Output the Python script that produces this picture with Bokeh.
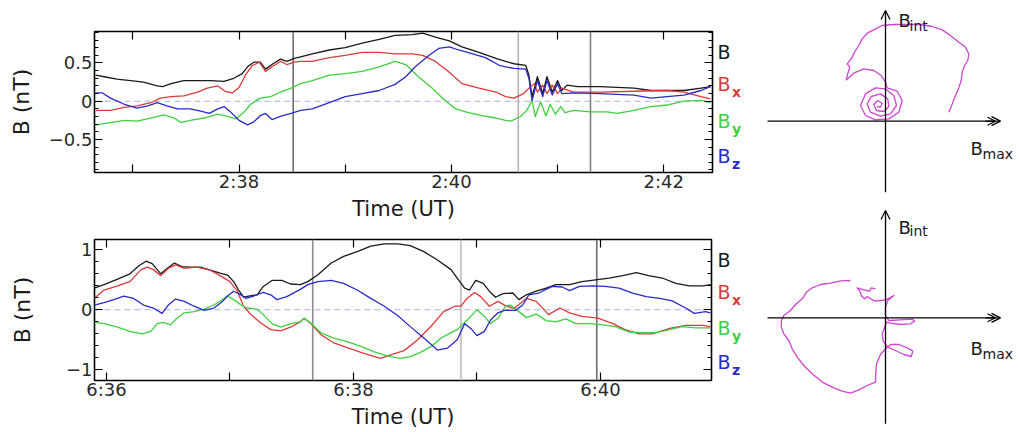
import numpy as np
from bokeh.plotting import figure
from bokeh.layouts import row, column
from bokeh.models import (Range1d, LinearAxis, FixedTicker, CustomJSTickFormatter,
                          Span, Label, Arrow, OpenHead)
from bokeh.embed import file_html
from bokeh.resources import INLINE

FONT = "DejaVu Sans"

# ---------------- Event 1 : 02:36 - 02:42 UT (time = minutes after 02:00) ----------------
t1_B = [36.65, 36.73, 36.85, 36.98, 37.10, 37.23, 37.28, 37.36, 37.48, 37.61, 37.73, 37.86, 37.95, 38.03,
        38.08, 38.14, 38.20, 38.25, 38.31, 38.39, 38.45, 38.52, 38.58, 38.69, 38.85, 39.00, 39.16, 39.32,
        39.47, 39.63, 39.73, 39.85, 39.98, 40.10, 40.26, 40.42, 40.51, 40.59, 40.70, 40.73, 40.76, 40.81,
        40.86, 40.90, 40.95, 41.00, 41.04, 41.09, 41.19, 41.40, 41.72, 41.88, 42.03, 42.19, 42.35, 42.44]
v1_B = [0.34, 0.32, 0.29, 0.27, 0.25, 0.20, 0.19, 0.23, 0.27, 0.27, 0.27, 0.26, 0.30, 0.36,
        0.45, 0.51, 0.51, 0.42, 0.48, 0.55, 0.52, 0.56, 0.58, 0.62, 0.67, 0.70, 0.76, 0.81,
        0.86, 0.87, 0.89, 0.84, 0.79, 0.71, 0.64, 0.56, 0.52, 0.49, 0.47, 0.34, 0.06, 0.32,
        0.10, 0.32, 0.12, 0.27, 0.14, 0.21, 0.19, 0.19, 0.17, 0.14, 0.14, 0.14, 0.17, 0.19]

t1_Bx = [36.65, 36.79, 36.92, 37.04, 37.17, 37.26, 37.36, 37.48, 37.61, 37.70, 37.80, 37.87, 37.94, 38.00,
         38.06, 38.12, 38.19, 38.25, 38.31, 38.39, 38.45, 38.52, 38.58, 38.69, 38.85, 39.00, 39.16, 39.32,
         39.47, 39.63, 39.73, 39.85, 39.98, 40.10, 40.26, 40.42, 40.51, 40.59, 40.68, 40.73, 40.78, 40.81,
         40.86, 40.90, 40.95, 41.00, 41.04, 41.15, 41.40, 41.72, 42.03, 42.19, 42.35, 42.44]
v1_Bx = [-0.12, -0.12, -0.08, -0.06, -0.02, 0.04, 0.06, 0.07, 0.12, 0.17, 0.20, 0.13, 0.11, 0.18,
         0.34, 0.46, 0.51, 0.39, 0.45, 0.52, 0.48, 0.51, 0.52, 0.52, 0.57, 0.60, 0.64, 0.64,
         0.62, 0.62, 0.60, 0.52, 0.38, 0.23, 0.17, 0.12, 0.06, 0.04, 0.10, 0.17, 0.23, 0.12,
         0.21, 0.10, 0.21, 0.10, 0.17, 0.12, 0.12, 0.13, 0.14, 0.12, 0.06, 0.03]

t1_By = [36.65, 36.79, 36.92, 37.04, 37.17, 37.29, 37.39, 37.45, 37.54, 37.67, 37.80, 37.89, 37.97, 38.05,
         38.11, 38.20, 38.30, 38.39, 38.49, 38.58, 38.69, 38.85, 39.00, 39.16, 39.32, 39.47, 39.57, 39.69,
         39.82, 39.94, 40.04, 40.16, 40.29, 40.42, 40.51, 40.56, 40.65, 40.71, 40.76, 40.79, 40.84, 40.89,
         40.93, 40.98, 41.03, 41.07, 41.15, 41.31, 41.47, 41.56, 41.72, 41.88, 42.03, 42.19, 42.35, 42.44]
v1_By = [-0.31, -0.28, -0.25, -0.26, -0.22, -0.18, -0.22, -0.28, -0.25, -0.22, -0.17, -0.20, -0.23, -0.14,
         -0.04, 0.04, 0.06, 0.12, 0.17, 0.23, 0.27, 0.34, 0.36, 0.39, 0.45, 0.52, 0.48, 0.32,
         0.17, 0.01, -0.10, -0.15, -0.19, -0.22, -0.25, -0.26, -0.20, -0.12, 0.01, -0.20, -0.01, -0.19,
         -0.04, -0.17, -0.07, -0.15, -0.12, -0.14, -0.14, -0.16, -0.12, -0.07, -0.05, 0.00, 0.01, -0.02]

t1_Bz = [36.65, 36.71, 36.79, 36.92, 37.04, 37.14, 37.23, 37.32, 37.42, 37.54, 37.64, 37.72, 37.80, 37.86,
         37.92, 38.00, 38.08, 38.14, 38.20, 38.25, 38.31, 38.39, 38.49, 38.58, 38.69, 38.85, 39.00, 39.16,
         39.32, 39.47, 39.57, 39.66, 39.79, 39.88, 39.98, 40.07, 40.20, 40.32, 40.45, 40.51, 40.59, 40.70,
         40.73, 40.76, 40.81, 40.86, 40.90, 40.95, 41.00, 41.04, 41.15, 41.40, 41.72, 41.88, 42.03, 42.19,
         42.35, 42.44]
v1_Bz = [0.11, 0.11, 0.04, -0.04, -0.09, -0.06, -0.02, -0.06, -0.10, -0.10, -0.13, -0.16, -0.10, -0.07,
         -0.14, -0.25, -0.31, -0.27, -0.19, -0.16, -0.24, -0.20, -0.16, -0.12, -0.10, -0.02, 0.06, 0.10,
         0.14, 0.22, 0.32, 0.45, 0.60, 0.69, 0.71, 0.67, 0.62, 0.57, 0.47, 0.45, 0.43, 0.42,
         0.30, 0.01, 0.27, 0.06, 0.27, 0.08, 0.23, 0.10, 0.11, 0.10, 0.08, 0.04, 0.06, 0.08,
         0.14, 0.19]

events1 = [38.51, 40.63, 41.31]

# ---------------- Event 2 : 06:36 - 06:41 UT (time = minutes after 06:00) ----------------
t2_B = [35.90, 35.98, 36.09, 36.19, 36.26, 36.32, 36.37, 36.44, 36.49, 36.55, 36.61, 36.68, 36.76, 36.84,
        36.92, 36.98, 37.03, 37.07, 37.11, 37.15, 37.22, 37.27, 37.34, 37.42, 37.49, 37.57, 37.63, 37.71,
        37.82, 37.92, 38.03, 38.14, 38.25, 38.36, 38.46, 38.57, 38.68, 38.79, 38.84, 38.90, 38.94, 38.99,
        39.05, 39.10, 39.15, 39.21, 39.29, 39.34, 39.40, 39.48, 39.56, 39.64, 39.75, 39.85, 39.96, 40.07,
        40.18, 40.29, 40.39, 40.50, 40.61, 40.72, 40.83, 40.89]
v2_B = [0.36, 0.42, 0.51, 0.60, 0.73, 0.81, 0.77, 0.60, 0.69, 0.78, 0.72, 0.71, 0.71, 0.66,
        0.61, 0.58, 0.47, 0.33, 0.21, 0.23, 0.25, 0.39, 0.49, 0.49, 0.43, 0.42, 0.47, 0.58,
        0.78, 0.89, 0.97, 1.06, 1.10, 1.10, 1.07, 0.97, 0.83, 0.67, 0.53, 0.36, 0.33, 0.49,
        0.44, 0.31, 0.21, 0.27, 0.28, 0.17, 0.25, 0.31, 0.36, 0.42, 0.42, 0.47, 0.50, 0.53,
        0.57, 0.62, 0.57, 0.53, 0.44, 0.40, 0.40, 0.42]

t2_Bx = [35.90, 35.98, 36.09, 36.19, 36.28, 36.33, 36.38, 36.44, 36.50, 36.56, 36.63, 36.73, 36.84, 36.92,
         37.00, 37.06, 37.11, 37.17, 37.25, 37.33, 37.41, 37.49, 37.57, 37.60, 37.65, 37.74, 37.84, 37.95,
         38.06, 38.17, 38.22, 38.30, 38.41, 38.52, 38.63, 38.73, 38.82, 38.87, 38.92, 38.98, 39.03, 39.10,
         39.17, 39.23, 39.30, 39.40, 39.48, 39.58, 39.67, 39.75, 39.85, 39.98, 40.10, 40.20, 40.31, 40.42,
         40.56, 40.69, 40.83, 40.89]
v2_Bx = [0.19, 0.33, 0.40, 0.47, 0.67, 0.71, 0.67, 0.57, 0.69, 0.75, 0.69, 0.71, 0.66, 0.57,
         0.47, 0.31, 0.06, -0.08, -0.22, -0.33, -0.35, -0.29, -0.20, -0.14, -0.22, -0.42, -0.55, -0.63,
         -0.71, -0.78, -0.81, -0.75, -0.68, -0.50, -0.27, -0.03, 0.06, 0.06, 0.19, 0.29, 0.22, 0.06,
         0.14, 0.07, 0.02, 0.19, 0.14, -0.08, 0.03, -0.05, -0.11, -0.14, -0.23, -0.33, -0.40, -0.40,
         -0.31, -0.26, -0.26, -0.28]

t2_By = [35.90, 35.98, 36.09, 36.19, 36.29, 36.36, 36.41, 36.46, 36.52, 36.57, 36.63, 36.71, 36.79, 36.87,
         36.94, 36.98, 37.03, 37.09, 37.14, 37.22, 37.27, 37.34, 37.41, 37.49, 37.57, 37.60, 37.65, 37.74,
         37.84, 37.95, 38.06, 38.17, 38.28, 38.38, 38.46, 38.55, 38.63, 38.71, 38.79, 38.84, 38.90, 38.95,
         39.00, 39.06, 39.11, 39.17, 39.23, 39.27, 39.34, 39.40, 39.48, 39.56, 39.64, 39.72, 39.80, 39.91,
         40.02, 40.12, 40.23, 40.34, 40.45, 40.56, 40.66, 40.77, 40.89]
v2_By = [-0.21, -0.23, -0.29, -0.36, -0.40, -0.36, -0.23, -0.21, -0.25, -0.14, -0.05, -0.03, 0.01, 0.08,
         0.17, 0.23, 0.17, 0.08, 0.03, 0.01, -0.08, -0.23, -0.29, -0.23, -0.20, -0.14, -0.21, -0.39,
         -0.47, -0.53, -0.61, -0.70, -0.77, -0.81, -0.78, -0.70, -0.61, -0.47, -0.38, -0.33, -0.21, -0.11,
         0.00, -0.11, -0.23, -0.14, 0.06, 0.08, -0.03, -0.13, -0.07, -0.18, -0.20, -0.15, -0.23, -0.23,
         -0.25, -0.28, -0.37, -0.38, -0.38, -0.33, -0.28, -0.30, -0.30]

t2_Bz = [35.90, 35.98, 36.06, 36.14, 36.22, 36.30, 36.38, 36.45, 36.50, 36.56, 36.63, 36.71, 36.79, 36.87,
         36.94, 36.98, 37.03, 37.09, 37.13, 37.19, 37.27, 37.33, 37.38, 37.46, 37.57, 37.63, 37.71, 37.82,
         37.92, 38.03, 38.14, 38.25, 38.36, 38.46, 38.57, 38.68, 38.76, 38.84, 38.90, 38.95, 39.00, 39.06,
         39.11, 39.17, 39.22, 39.31, 39.37, 39.42, 39.50, 39.61, 39.69, 39.75, 39.83, 39.94, 40.04, 40.15,
         40.26, 40.37, 40.48, 40.58, 40.69, 40.76, 40.85, 40.89]
v2_Bz = [0.08, 0.12, 0.17, 0.23, 0.19, 0.08, 0.03, -0.06, 0.08, 0.18, 0.14, 0.06, -0.01, 0.03,
         0.14, 0.23, 0.31, 0.25, 0.19, 0.23, 0.29, 0.25, 0.17, 0.22, 0.34, 0.42, 0.47, 0.49,
         0.44, 0.33, 0.19, 0.06, -0.10, -0.28, -0.47, -0.67, -0.64, -0.50, -0.23, -0.31, -0.43, -0.36,
         -0.17, -0.05, -0.01, -0.01, 0.08, 0.25, 0.28, 0.39, 0.38, 0.32, 0.39, 0.40, 0.39, 0.36,
         0.28, 0.22, 0.19, 0.15, 0.03, -0.06, -0.03, -0.05]

events2 = [37.67, 38.87, 39.97]

# ---------------- Hodograms (B_max vs B_int) ----------------
h1_bmax = [0.633, 0.667, 0.700, 0.733, 0.757, 0.767, 0.790, 0.823, 0.833, 0.800, 0.733, 0.650, 0.567, 0.467,
           0.350, 0.217, 0.083, -0.033, -0.117, -0.183, -0.233, -0.267, -0.310, -0.343, -0.383, -0.357,
           -0.373, -0.393, -0.317, -0.217, -0.117, -0.043, 0.000, 0.017, 0.117, 0.167, 0.133, 0.033, -0.100,
           -0.200, -0.250, -0.200, -0.100, 0.000, 0.083, 0.110, 0.050, -0.050, -0.150, -0.183, -0.143,
           -0.050, 0.023, 0.033, -0.017, -0.090, -0.117, -0.077, -0.033, -0.050, -0.083]
h1_bint = [0.090, 0.173, 0.257, 0.333, 0.407, 0.490, 0.557, 0.607, 0.673, 0.740, 0.790, 0.857, 0.913, 0.947,
           0.967, 0.967, 0.967, 0.957, 0.913, 0.880, 0.823, 0.757, 0.690, 0.623, 0.573, 0.540,
           0.490, 0.413, 0.480, 0.523, 0.507, 0.457, 0.390, 0.333, 0.300, 0.207, 0.090, 0.023, 0.013,
           0.057, 0.157, 0.273, 0.333, 0.323, 0.257, 0.157, 0.073, 0.050, 0.090, 0.173, 0.247,
           0.273, 0.223, 0.147, 0.097, 0.107, 0.167, 0.207, 0.180, 0.140, 0.147]

h2_bmax = [-0.350, -0.450, -0.550, -0.650, -0.733, -0.790, -0.833, -0.900, -0.950, -1.017, -1.040, -1.043,
           -1.017, -0.967, -0.933, -0.883, -0.817, -0.733, -0.633, -0.517, -0.433, -0.350, -0.267, -0.183,
           -0.100, -0.097, -0.090, -0.050, 0.000, 0.050, 0.133, 0.217, 0.273, 0.257, 0.183, 0.100, 0.023,
           -0.023, -0.033, -0.010, 0.010, 0.050, 0.150, 0.250, 0.290, 0.267, 0.150, 0.033, 0.000, 0.000,
           0.023, 0.067, 0.083, 0.043, 0.000, -0.050, -0.100, -0.150, -0.183, -0.210, -0.243, -0.257,
           -0.283, -0.217, -0.157, -0.143, -0.100]
h2_bint = [0.373, 0.370, 0.347, 0.333, 0.300, 0.257, 0.190, 0.133, 0.073, 0.023, -0.027, -0.093,
           -0.160, -0.227, -0.310, -0.393, -0.477, -0.560, -0.643, -0.700, -0.733, -0.753, -0.720, -0.677,
           -0.643, -0.543, -0.460, -0.367, -0.310, -0.267, -0.267, -0.300, -0.333, -0.387, -0.367, -0.327,
           -0.293, -0.233, -0.160, -0.100, -0.043, -0.053, -0.067, -0.060, -0.033, -0.013, -0.020, -0.027,
           0.023, 0.107, 0.173, 0.207, 0.223, 0.200, 0.180, 0.173, 0.167, 0.190, 0.213, 0.190, 0.223,
           0.267, 0.300, 0.280, 0.267, 0.300, 0.290]

component_subs = ["", "x", "y", "z"]

# ---------------- styles ----------------
COLORS = ["#1a1a1a", "#dc3a3a", "#3fd03f", "#2a2ac8"]
EVENT_COLORS_1 = ["#707070", "#b4b4b4", "#808080"]
EVENT_COLORS_2 = ["#8c8c8c", "#bdbdbd", "#6c6c6c"]
HODO_COLOR = "#cf45cf"


def style_axis(ax, labels=True):
    ax.axis_line_color = None
    ax.major_tick_in = 8
    ax.major_tick_out = 0
    ax.minor_tick_in = 4
    ax.minor_tick_out = 0
    ax.major_tick_line_color = "black"
    ax.minor_tick_line_color = "black"
    ax.major_tick_line_width = 1.2
    ax.minor_tick_line_width = 1.2
    ax.major_label_text_font = FONT
    ax.major_label_text_color = "#2a2a2a"
    if labels:
        ax.major_label_text_font_size = "18px"
        ax.major_label_standoff = 2
    else:
        ax.formatter = CustomJSTickFormatter(code="return ''")
        ax.major_label_text_font_size = "1px"
        ax.major_label_standoff = 0


def ts_panel(hour, minutes, xr, yr, y_major, y_minor, series, events, ev_colors,
             frame_w, frame_h, borders, ylab_standoff):
    bl, br, bt, bb = borders
    p = figure(frame_width=frame_w, frame_height=frame_h,
               x_range=Range1d(*xr), y_range=Range1d(*yr),
               x_axis_location=None, y_axis_location=None,
               min_border_left=bl, min_border_right=br, min_border_top=bt, min_border_bottom=bb,
               output_backend="svg", toolbar_location=None)
    p.grid.grid_line_color = None
    p.outline_line_color = "black"
    p.outline_line_width = 1.6
    p.background_fill_color = "white"
    p.border_fill_color = "white"

    xt = FixedTicker(ticks=minutes, minor_ticks=[])
    overrides = {m: (f"{hour}:{m:02d}" if m % 2 == 0 else "") for m in minutes}
    yt = FixedTicker(ticks=y_major, minor_ticks=y_minor)
    yover = {v: ("\u2212" + f"{abs(v):g}" if v < 0 else f"{v:g}") for v in y_major}

    xb = LinearAxis(ticker=xt, major_label_overrides=overrides, axis_label="Time (UT)")
    style_axis(xb)
    xb.major_label_standoff = -2
    xb.axis_label_text_font = FONT
    xb.axis_label_text_font_size = "21px"
    xb.axis_label_text_font_style = "normal"
    xb.axis_label_text_color = "#1a1a1a"
    xb.axis_label_standoff = 2
    p.add_layout(xb, "below")
    xa = LinearAxis(ticker=xt)
    style_axis(xa, labels=False)
    p.add_layout(xa, "above")

    yl = LinearAxis(ticker=yt, major_label_overrides=yover, axis_label="B (nT)")
    style_axis(yl)
    yl.axis_label_text_font = FONT
    yl.axis_label_text_font_size = "22px"
    yl.axis_label_text_font_style = "normal"
    yl.axis_label_text_color = "#1a1a1a"
    yl.axis_label_standoff = ylab_standoff
    p.add_layout(yl, "left")
    yr_ax = LinearAxis(ticker=yt)
    style_axis(yr_ax, labels=False)
    p.add_layout(yr_ax, "right")

    p.add_layout(Span(location=0, dimension="width", line_color="#a9b1e6",
                      line_dash="6 4", line_width=1.1, level="underlay"))
    for ev, c in zip(events, ev_colors):
        p.add_layout(Span(location=ev, dimension="height", line_color=c,
                          line_width=1.6, level="underlay"))

    for (t, v), c in zip(series, COLORS):
        p.line(t, v, line_color=c, line_width=1.3, line_join="round")
    return p


def legend_panel(height, ys):
    """Coloured component names (B, Bx, By, Bz) to the right of a time-series panel."""
    g = figure(width=44, height=height, x_range=Range1d(0, 44), y_range=Range1d(0, height),
               x_axis_location=None, y_axis_location=None, min_border=0,
               output_backend="svg", toolbar_location=None)
    g.grid.grid_line_color = None
    g.outline_line_color = None
    g.border_fill_color = "white"
    for sub, c, yy in zip(component_subs, COLORS, ys):
        g.add_layout(Label(x=1, y=yy, x_units="screen", y_units="screen",
                           text="B", text_font=FONT, text_font_size="19px",
                           text_color=c, text_baseline="middle"))
        if sub:
            g.add_layout(Label(x=15.5, y=yy - 8, x_units="screen", y_units="screen",
                               text=sub, text_font=FONT, text_font_size="14px",
                               text_font_style="bold", text_color=c, text_baseline="middle"))
    return g


p1 = ts_panel(2, list(range(37, 43)), (36.639, 42.459), (-0.933, 0.912),
              [-0.5, 0.0, 0.5], [round(-0.9 + 0.1 * i, 2) for i in range(19)],
              [(t1_B, v1_B), (t1_Bx, v1_Bx), (t1_By, v1_By), (t1_Bz, v1_Bz)],
              events1, EVENT_COLORS_1, 618, 141, (94, 4, 31, 53), 12)

p2 = ts_panel(6, list(range(36, 41)), (35.903, 40.899), (-1.178, 1.172),
              [-1, 0, 1], [round(-1.2 + 0.2 * i, 2) for i in range(13)],
              [(t2_B, v2_B), (t2_Bx, v2_Bx), (t2_By, v2_By), (t2_Bz, v2_Bz)],
              events2, EVENT_COLORS_2, 617, 141, (92, 7, 14, 52), 28)

l1 = legend_panel(225, [173.5, 141.5, 105, 70])
l2 = legend_panel(207, [173, 140.3, 104.5, 70.5])


def hodo_panel(height, yr, bmax, bint, ax_y, int_lab, max_lab):
    h = figure(width=259, height=height, x_range=Range1d(-1.25, 1.34), y_range=Range1d(*yr),
               x_axis_location=None, y_axis_location=None, min_border=0,
               output_backend="svg", toolbar_location=None)
    h.grid.grid_line_color = None
    h.outline_line_color = None
    h.background_fill_color = "white"
    h.border_fill_color = "white"
    h.add_layout(Arrow(x_start=-1.18, y_start=0, x_end=1.15, y_end=0, line_width=1.3,
                       line_color="black", end=OpenHead(size=9, line_width=1.3, line_color="black")))
    h.add_layout(Arrow(x_start=1.0, y_start=0, x_end=1.10, y_end=0, line_width=1.3,
                       line_color="black", end=OpenHead(size=8, line_width=1.2, line_color="black")))
    h.add_layout(Arrow(x_start=0, y_start=ax_y[0], x_end=0, y_end=ax_y[1], line_width=1.3,
                       line_color="black", end=OpenHead(size=9, line_width=1.3, line_color="black")))
    h.line(bmax, bint, line_color=HODO_COLOR, line_width=1.3, line_join="round")
    for (bx, by, sx, sy, sub) in (int_lab + ("int",), max_lab + ("max",)):
        h.add_layout(Label(x=bx, y=by, text="B", text_font=FONT, text_font_size="18px",
                           text_color="#1a1a1a", text_baseline="alphabetic"))
        h.add_layout(Label(x=sx, y=sy, text=sub, text_font=FONT, text_font_size="14px",
                           text_color="#1a1a1a", text_baseline="alphabetic"))
    return h


h1 = hodo_panel(200, (-0.793, 1.207), h1_bmax, h1_bint, (-0.71, 1.107),
                (0.13, 1.007, 0.24, 0.957), (0.85, -0.273, 0.97, -0.323))
h2 = hodo_panel(232, (-1.147, 1.173), h2_bmax, h2_bint, (-1.06, 1.073),
                (0.13, 0.903, 0.24, 0.873), (0.85, -0.307, 0.97, -0.357))

layout = row(column(p1, p2), column(l1, l2), column(h1, h2))

open("out.html", "w").write(file_html(layout, INLINE))
